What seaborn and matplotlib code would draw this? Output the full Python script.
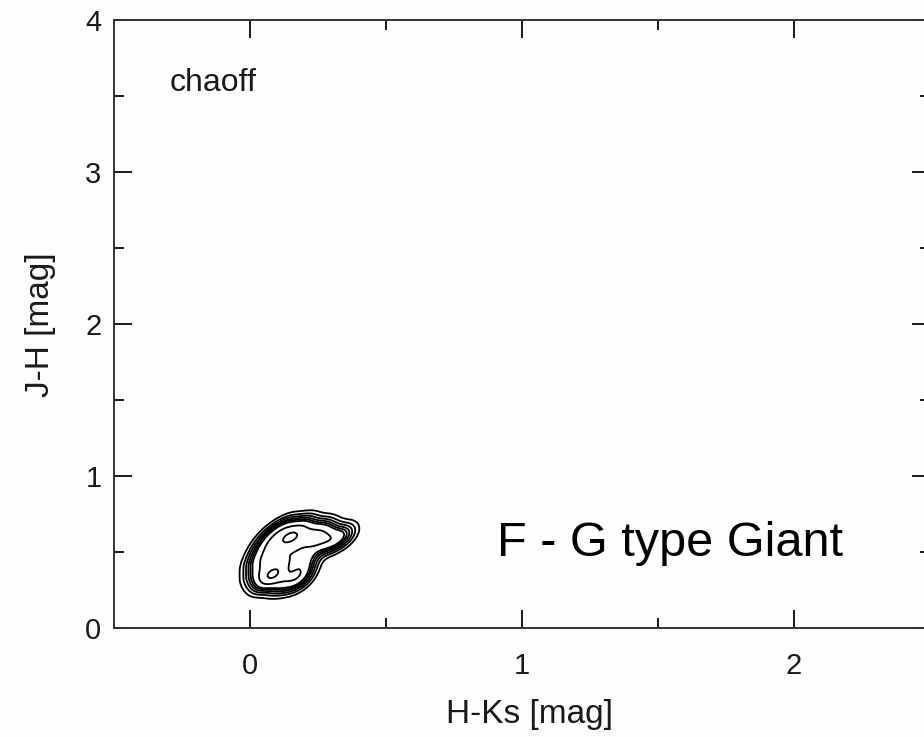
import matplotlib
matplotlib.use("Agg")
import matplotlib.pyplot as plt
import seaborn as sns

# Colour-colour samples (H-Ks, J-H) with relative weights for the density contours
hks = [0.06, 0.12, 0.17,
       0.04, 0.09, 0.18,
       0.04, 0.08, 0.14, 0.20,
       0.06, 0.11, 0.17, 0.23, 0.29,
       0.09, 0.15, 0.21, 0.27, 0.33,
       0.13, 0.19, 0.25]
jh = [0.32, 0.31, 0.32,
      0.37, 0.36, 0.37,
      0.45, 0.45, 0.45, 0.45,
      0.53, 0.54, 0.54, 0.55, 0.57,
      0.60, 0.60, 0.61, 0.61, 0.60,
      0.65, 0.66, 0.64]
wts = [1.0, 1.1, 0.9,
       1.0, 2.6, 1.0,
       1.0, 1.1, 1.1, 0.9,
       1.0, 1.1, 1.1, 1.0, 0.9,
       1.0, 2.4, 1.1, 1.0, 0.8,
       0.9, 0.9, 0.7]
levels = [0.006, 0.018, 0.035, 0.06, 0.09, 0.13, 0.4, 0.93]

x_major = [0, 1, 2]
x_minor = [0.5, 1.5]
y_major = [0, 1, 2, 3, 4]
y_minor = [0.5, 1.5, 2.5, 3.5]

sns.set_theme(style="ticks")
plt.rcParams["font.family"] = ["Liberation Sans", "DejaVu Sans"]

bg = "#fdfdfd"
ink = "#1a1a1a"
fig = plt.figure(figsize=(9.24, 7.37), dpi=100, facecolor=bg)
ax = fig.add_axes([114 / 924, 109 / 737, 816 / 924, 608 / 737])
ax.set_facecolor(bg)

sns.kdeplot(x=hks, y=jh, weights=wts, levels=levels, bw_adjust=0.68,
            gridsize=60, color="black", linewidths=1.3, ax=ax)

ax.set_xlim(-0.5, 2.5)
ax.set_ylim(0, 4)
ax.set_xticks(x_major)
ax.set_xticks(x_minor, minor=True)
ax.set_yticks(y_major)
ax.set_yticks(y_minor, minor=True)
ax.set_xticklabels([str(v) for v in x_major])
ax.set_yticklabels([str(v) for v in y_major])

ax.tick_params(which="major", direction="in", length=13, width=1.4,
               top=True, right=True, colors=ink, labelcolor=ink,
               labelsize=21)
ax.tick_params(which="minor", direction="in", length=7, width=1.4,
               top=True, right=True, colors=ink)
ax.tick_params(axis="x", which="major", pad=17)
ax.tick_params(axis="y", which="major", pad=9)

for side in ["left", "bottom", "top", "right"]:
    ax.spines[side].set_visible(True)
    ax.spines[side].set_linewidth(1.4)
    ax.spines[side].set_color("#333333")

ax.set_xlabel("H-Ks [mag]", fontsize=24, color=ink)
ax.set_ylabel("J-H [mag]", fontsize=24, color=ink)
ax.xaxis.set_label_coords((530 - 114) / 816, (628 - 715) / 608)
ax.xaxis.label.set_va("center")
ax.yaxis.set_label_coords((40 - 114) / 816, (628 - 325) / 608)
ax.yaxis.label.set_va("center")

ax.text((170 - 114) / 816, (628 - 83) / 608, "chaoff", transform=ax.transAxes,
        fontsize=23, color=ink, va="center", ha="left")
ax.text((497 - 114) / 816, (628 - 543) / 608, "F - G type Giant",
        transform=ax.transAxes, fontsize=35, color="black",
        va="center", ha="left")

fig.savefig("out.png", dpi=100, facecolor=bg)
